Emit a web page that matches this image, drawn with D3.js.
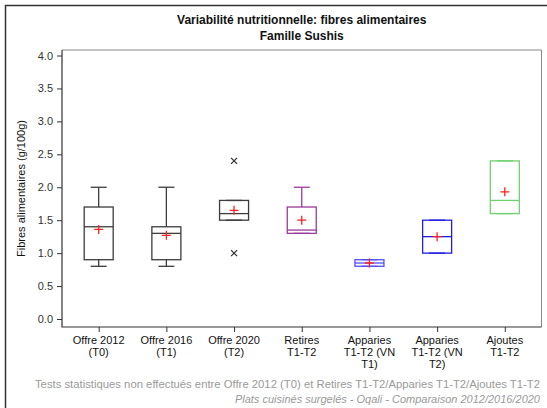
<!DOCTYPE html>
<html><head><meta charset="utf-8">
<script src="https://cdn.jsdelivr.net/npm/d3@7"></script>
<style>body{margin:0;background:#fff}svg{display:block;font-family:"Liberation Sans",Arial,sans-serif}</style>
</head><body><svg id="c" width="547" height="408"></svg>
<script>
const categories = [["Offre 2012","(T0)"],["Offre 2016","(T1)"],["Offre 2020","(T2)"],["Retires","T1-T2"],["Apparies","T1-T2 (VN","T1)"],["Apparies","T1-T2 (VN","T2)"],["Ajoutes","T1-T2"]];
const whiskerLow  = [0.8, 0.8, 1.5, 1.3, 0.8, 1.0, 1.6];
const q1          = [0.9, 0.9, 1.5, 1.3, 0.8, 1.0, 1.6];
const median      = [1.4, 1.3, 1.6, 1.35, 0.85, 1.25, 1.8];
const q3          = [1.7, 1.4, 1.8, 1.7, 0.9, 1.5, 2.4];
const whiskerHigh = [2.0, 2.0, 1.8, 2.0, 0.9, 1.5, 2.4];
const means       = [1.36, 1.27, 1.65, 1.5, 0.85, 1.25, 1.93];
const outliers    = [[], [], [2.4, 1.0], [], [], [], []];
const yTicks      = [0,0.5,1,1.5,2,2.5,3,3.5,4];
const colors      = ["#3c3c3c","#3c3c3c","#3c3c3c","#9a3a9a","#5050ff","#2020e0","#70d070"];

const svg = d3.select("#c");
const L=62, R=541.5, T=50, B=327;
const x = d3.scalePoint().domain(d3.range(categories.length)).range([L,R]).padding(0.542);
const y = d3.scaleLinear().domain([0,4]).range([319,55.5]);

// outer frame
svg.append("path").attr("d","M5.5,408V5.5H547").attr("fill","none").attr("stroke","#333").attr("stroke-width",1.5);

// titles
const tc = (L+R)/2;
svg.append("text").attr("x",tc).attr("y",24).attr("text-anchor","middle").attr("font-size",12).attr("font-weight","bold").attr("fill","#111").text("Variabilité nutritionnelle: fibres alimentaires");
svg.append("text").attr("x",tc).attr("y",40).attr("text-anchor","middle").attr("font-size",12).attr("font-weight","bold").attr("fill","#111").text("Famille Sushis");

// plot frame
svg.append("path").attr("d",`M${L},${T}H${R}V${B}`).attr("fill","none").attr("stroke","#888").attr("stroke-width",1);
svg.append("path").attr("d",`M${L},${T}V${B}H${R}`).attr("fill","none").attr("stroke","#333").attr("stroke-width",1.2);

// y axis
const ya = svg.append("g").attr("transform",`translate(${L},0)`).call(d3.axisLeft(y).tickValues(yTicks).tickFormat(d3.format(".1f")).tickSize(5).tickSizeOuter(0));
ya.select(".domain").remove();
ya.selectAll("line").attr("stroke","#333");
ya.selectAll("text").attr("font-size",11).attr("fill","#333").attr("font-family","Liberation Sans, Arial").attr("dx",-1);

svg.append("text").attr("transform",`translate(25,${(T+B)/2}) rotate(-90)`).attr("text-anchor","middle").attr("font-size",11).attr("fill","#111").text("Fibres alimentaires (g/100g)");

// x axis
const xa = svg.append("g").attr("transform",`translate(0,${B})`).call(d3.axisBottom(x).tickSize(5).tickFormat(""));
xa.select(".domain").remove();
xa.selectAll("line").attr("stroke","#333");
categories.forEach((lines,i)=>{
  const t = svg.append("text").attr("x",x(i)).attr("y",344).attr("text-anchor","middle").attr("font-size",11).attr("fill","#111");
  lines.forEach((s,j)=>t.append("tspan").attr("x",x(i)).attr("dy",j?12:0).text(s));
});

// boxes
const bw=14.5, cw=8;
categories.forEach((c,i)=>{
  const g = svg.append("g").attr("stroke",colors[i]).attr("fill","none").attr("stroke-width",1.3);
  const cx = x(i);
  g.append("line").attr("x1",cx).attr("x2",cx).attr("y1",y(q3[i])).attr("y2",y(whiskerHigh[i]));
  g.append("line").attr("x1",cx).attr("x2",cx).attr("y1",y(q1[i])).attr("y2",y(whiskerLow[i]));
  g.append("line").attr("x1",cx-cw).attr("x2",cx+cw).attr("y1",y(whiskerHigh[i])).attr("y2",y(whiskerHigh[i]));
  g.append("line").attr("x1",cx-cw).attr("x2",cx+cw).attr("y1",y(whiskerLow[i])).attr("y2",y(whiskerLow[i]));
  g.append("rect").attr("x",cx-bw).attr("width",2*bw).attr("y",y(q3[i])).attr("height",y(q1[i])-y(q3[i]));
  g.append("line").attr("x1",cx-bw).attr("x2",cx+bw).attr("y1",y(median[i])).attr("y2",y(median[i]));
  const my=y(means[i]);
  svg.append("path").attr("d",`M${cx-4.5},${my}H${cx+4.5}M${cx},${my-4.5}V${my+4.5}`).attr("stroke","#ff2020").attr("stroke-width",1.3);
  outliers[i].forEach(v=>{
    const oy=y(v);
    svg.append("path").attr("d",`M${cx-3},${oy-3}L${cx+3},${oy+3}M${cx-3},${oy+3}L${cx+3},${oy-3}`).attr("stroke","#333").attr("stroke-width",1.3);
  });
});

// footnotes
svg.append("text").attr("x",540).attr("y",388).attr("text-anchor","end").attr("font-size",11.3).attr("fill","#9a9a9a").text("Tests statistiques non effectués entre Offre 2012 (T0) et Retires T1-T2/Apparies T1-T2/Ajoutes T1-T2");
svg.append("text").attr("x",540).attr("y",403).attr("text-anchor","end").attr("font-size",11).attr("font-style","italic").attr("fill","#9a9a9a").text("Plats cuisinés surgelés - Oqali - Comparaison 2012/2016/2020");
</script></body></html>
